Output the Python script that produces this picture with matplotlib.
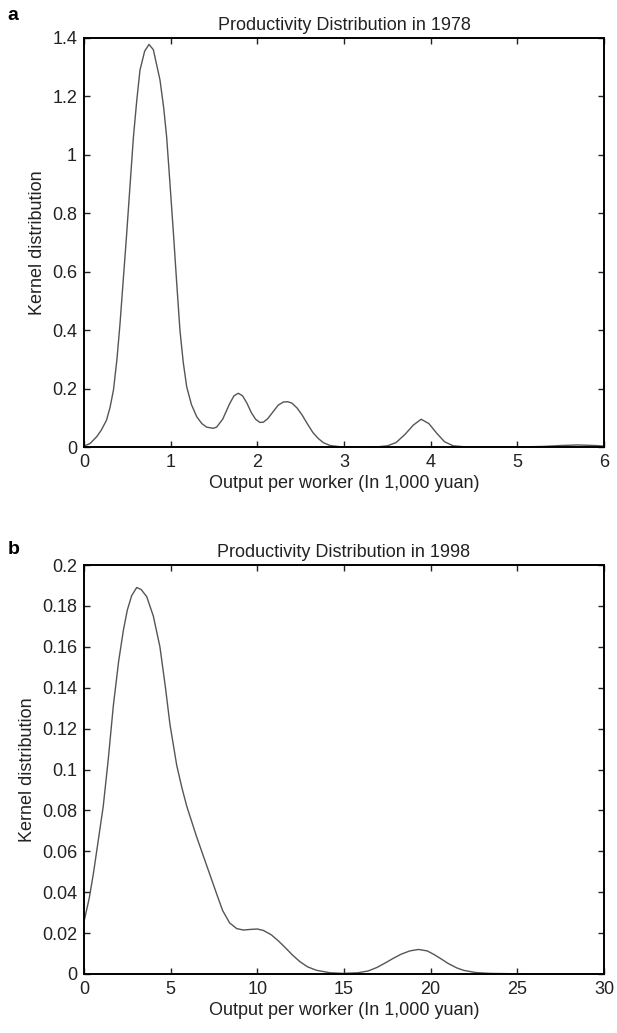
#!/usr/bin/env python3
"""Productivity distribution kernel densities, 1978 vs 1998."""

import matplotlib.pyplot as plt
from matplotlib.ticker import FuncFormatter

plt.rcParams['font.family'] = ['Liberation Sans', 'DejaVu Sans']

# Panel a: 1978 (x in 1,000 yuan, kernel density)
x_1978 = [0.0, 0.07, 0.146, 0.20, 0.26, 0.30, 0.34, 0.38, 0.415, 0.45, 0.49,
          0.53, 0.57, 0.61, 0.646, 0.70, 0.75, 0.80, 0.877, 0.92, 0.954,
          0.99, 1.03, 1.07, 1.107, 1.145, 1.185, 1.24, 1.30, 1.36, 1.415,
          1.49, 1.53, 1.60, 1.68, 1.73, 1.78, 1.83, 1.88, 1.93, 1.98, 2.03,
          2.07, 2.12, 2.18, 2.24, 2.30, 2.35, 2.40, 2.46, 2.52, 2.58, 2.64,
          2.70, 2.76, 2.84, 2.95, 3.2, 3.4, 3.5, 3.6, 3.7, 3.8, 3.89, 3.98,
          4.07, 4.16, 4.26, 4.4, 4.6, 5.0, 5.3, 5.5, 5.7, 5.9, 6.0]
y_1978 = [0.003, 0.012, 0.035, 0.058, 0.092, 0.135, 0.195, 0.30, 0.42, 0.56,
          0.72, 0.89, 1.06, 1.19, 1.29, 1.355, 1.378, 1.36, 1.256, 1.16, 1.06,
          0.91, 0.74, 0.56, 0.40, 0.29, 0.206, 0.145, 0.104, 0.08, 0.068,
          0.064, 0.068, 0.095, 0.148, 0.175, 0.184, 0.175, 0.15, 0.118, 0.095,
          0.084, 0.085, 0.097, 0.12, 0.143, 0.154, 0.155, 0.15, 0.133, 0.108,
          0.078, 0.05, 0.03, 0.015, 0.005, 0.001, 0.0, 0.001, 0.004, 0.015,
          0.042, 0.075, 0.095, 0.08, 0.047, 0.018, 0.004, 0.0005, 0.0, 0.0,
          0.002, 0.005, 0.007, 0.005, 0.003]

# Panel b: 1998
x_1998 = [0.0, 0.3, 0.54, 0.8, 1.11, 1.4, 1.69, 2.0, 2.27, 2.5, 2.75, 3.04,
          3.3, 3.62, 4.0, 4.38, 4.7, 4.96, 5.35, 5.65, 5.93, 6.5, 7.08, 7.66,
          8.0, 8.4, 8.81, 9.2, 9.6, 10.0, 10.35, 10.8, 11.2, 11.6, 12.0,
          12.46, 12.9, 13.42, 14.2, 14.96, 15.8, 16.4, 16.9, 17.4, 17.85,
          18.3, 18.8, 19.3, 19.8, 20.2, 20.6, 21.0, 21.5, 21.9, 22.6, 23.4,
          25.0, 27.0, 30.0]
y_1998 = [0.0256, 0.037, 0.049, 0.064, 0.082, 0.105, 0.131, 0.153, 0.168,
          0.178, 0.185, 0.189, 0.188, 0.1845, 0.175, 0.160, 0.14, 0.122,
          0.102, 0.091, 0.082, 0.067, 0.053, 0.039, 0.031, 0.025, 0.0222,
          0.0215, 0.0218, 0.022, 0.0213, 0.0192, 0.0163, 0.013, 0.0095,
          0.006, 0.0035, 0.0018, 0.0006, 0.0003, 0.0006, 0.0015, 0.0032,
          0.0055, 0.0077, 0.0097, 0.0113, 0.012, 0.0113, 0.0095, 0.0074,
          0.0052, 0.003, 0.0018, 0.0007, 0.0003, 0.0001, 0.0, 0.0]

xticks_a = [0, 1, 2, 3, 4, 5, 6]
yticks_a = [0, 0.2, 0.4, 0.6, 0.8, 1.0, 1.2, 1.4]
xticks_b = [0, 5, 10, 15, 20, 25, 30]
yticks_b = [0, 0.02, 0.04, 0.06, 0.08, 0.1, 0.12, 0.14, 0.16, 0.18, 0.2]

FS = 13
W, H = 617, 1033


def style(ax, xt, yt, title):
    ax.set_xticks(xt)
    ax.set_yticks(yt)
    ax.xaxis.set_major_formatter(FuncFormatter(lambda v, p: f'{v:g}'))
    ax.yaxis.set_major_formatter(FuncFormatter(lambda v, p: f'{v:g}'))
    ax.tick_params(direction='in', top=True, right=True, length=4,
                   width=1, labelsize=FS, pad=5, colors='#222222')
    for s in ax.spines.values():
        s.set_linewidth(1.4)
    ax.set_xlabel('Output per worker (In 1,000 yuan)', fontsize=FS,
                  color='#222222', labelpad=3)
    ax.set_ylabel('Kernel distribution', fontsize=FS, color='#222222',
                  labelpad=4)
    ax.set_title(title, fontsize=FS, color='#222222', pad=6)


fig = plt.figure(figsize=(W / 100, H / 100), dpi=100)

ax1 = fig.add_axes([84 / W, 1 - 447 / H, 520 / W, 409 / H])
ax1.plot(x_1978, y_1978, color='#555555', linewidth=1.0)
ax1.set_xlim(0, 6)
ax1.set_ylim(0, 1.4)
style(ax1, xticks_a, yticks_a, 'Productivity Distribution in 1978')

ax2 = fig.add_axes([84 / W, 1 - 974 / H, 520 / W, 409 / H])
ax2.plot(x_1998, y_1998, color='#555555', linewidth=1.0)
ax2.set_xlim(0, 30)
ax2.set_ylim(0, 0.2)
style(ax2, xticks_b, yticks_b, 'Productivity Distribution in 1998')

fig.text(7 / W, 1 - 16 / H, 'a', fontsize=14, fontweight='bold',
         va='center', ha='left')
fig.text(8 / W, 1 - 550 / H, 'b', fontsize=14, fontweight='bold',
         va='center', ha='left')

fig.savefig('out.png', dpi=100, facecolor='white')
plt.close(fig)
